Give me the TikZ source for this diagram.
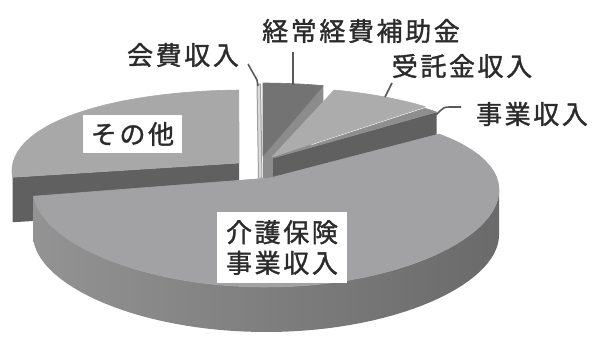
\documentclass[tikz,border=0pt]{standalone}
\usepackage{fontspec}
\newfontfamily\jpfont[LetterSpace=10, FakeBold=1.3]{Noto Sans CJK JP}
\usetikzlibrary{calc}
\definecolor{topmain}{HTML}{A2A2A5}
\definecolor{topother}{HTML}{A8A8A8}
\definecolor{topkeijo}{HTML}{737373}
\definecolor{topjutaku}{HTML}{ACACAC}
\definecolor{topjigyo}{HTML}{8E8E8E}
\definecolor{cutdark}{HTML}{606060}
\definecolor{cutkeijo}{HTML}{8C8C8C}
\definecolor{sideleft}{HTML}{939393}
\definecolor{sidemid}{HTML}{808080}
\definecolor{sideright}{HTML}{6A6A6A}
\definecolor{ink}{HTML}{2B2B2B}
\definecolor{leadgray}{HTML}{5A5A5A}
\tikzset{
  % rim of the pie top, x radius 233, y radius 81 behind / 97 in front
  rimto/.style args={#1/#2/#3/#4/#5}{insert path={-- plot[domain=#3:#4, samples=60, variable=\t]
      ({#1+233*cos(\t)},{#2+#5-(89-8*sin(\t))*sin(\t)})}},
  lbl/.style={font=\jpfont\fontsize{13pt}{15.3pt}\selectfont, text=ink, inner sep=0pt},
  lblbox/.style={lbl, fill=white, align=center},
  leader/.style={draw=leadgray, line width=0.8pt, line join=round},
  face/.style={line width=0.3pt, line join=round},
}
\begin{document}
\begin{tikzpicture}[x=0.5pt, y=-0.5pt]
  \useasboundingbox (0,0) rectangle (604,338);
  \fill[white] (0,0) rectangle (604,338);

  % slice centres (apex) and edge points
  \coordinate (apex1) at (239,163);  % sonota
  \coordinate (apex2) at (263,156);  % keijo
  \coordinate (apex3) at (272,157);  % jutaku
  \coordinate (apex4) at (273,158);  % jigyo
  \coordinate (apex5) at (270,178);  % kaigo
  \coordinate (edge1) at ({245+233*cos(184)},{171-(89-8*sin(184))*sin(184)});
  \coordinate (edge2) at ({261+233*cos(74.5)},{164-(89-8*sin(74.5))*sin(74.5)});
  \coordinate (edge4) at ({269+233*cos(44)},{170-(89-8*sin(44))*sin(44)});
  \coordinate (edge5) at ({266+233*cos(-176)},{190-(89-8*sin(-176))*sin(-176)});

  % sonota
  \fill[cutdark, face] (edge1) -- (apex1) -- ($(apex1)+(0,45)$) -- ($(edge1)+(0,45)$) -- cycle;
  \filldraw[topother, face] (apex1) [rimto=245/171/91.5/184/0] -- cycle;

  % kaihi
  \filldraw[fill=gray!30, draw=gray!75, line width=0.5pt] (257,84) -- (260.5,84) -- (262,178) -- (258.5,178) -- cycle;

  % keijo
  \fill[cutkeijo, face] (edge2) -- (apex2) -- ($(apex2)+(0,45)$) -- ($(edge2)+(0,45)$) -- cycle;
  \filldraw[topkeijo, face] (apex2) [rimto=261/164/74.5/89.5/0] -- cycle;

  % jigyo
  \fill[cutdark, face] (edge4) -- (apex4) -- ($(apex4)+(0,45)$) -- ($(edge4)+(0,45)$) -- cycle;
  \filldraw[topjigyo, face] (apex4) [rimto=269/170/44/48/0] -- cycle;

  % jutaku
  \filldraw[topjutaku, face] (apex3) [rimto=268/168/47.5/73.5/0] -- cycle;

  % kaigo hoken
  \shade[left color=sideleft, middle color=sidemid, right color=sideright]
    (edge5) [rimto=266/190/-176/0/0] [rimto=266/190/0/-176/45] -- cycle;
  \filldraw[topmain, face] (apex5) [rimto=266/190/-176/42/0] -- cycle;

  % labels
  \node[lbl] (label1) at (183,55) {会費収入};
  \node[lbl] (label2) at (361,31) {経常経費補助金};
  \node[lbl] (label3) at (462,66) {受託金収入};
  \node[lbl] (label4) at (532,114) {事業収入};
  \node[lblbox, minimum width=49.5pt, minimum height=19pt] (label5) at (132.5,134) {その他};
  \node[lblbox, minimum width=65pt, minimum height=35.5pt] (label6) at (282,247.5) {介護保険\\事業収入};

  % leaders
  \coordinate (tip1a) at (248,64);  \coordinate (tip1b) at (258,86);
  \coordinate (tip2a) at (293,52);  \coordinate (tip2b) at (293,85);
  \coordinate (tip3a) at (392,83);  \coordinate (tip3b) at (385,97);
  \coordinate (tip4a) at (461,107); \coordinate (tip4b) at (436,115);
  \draw[leader] (tip1a) -- (257,80) -- (tip1b);
  \draw[leader] (tip2a) -- (tip2b);
  \draw[leader] (tip3a) -- (tip3b);
  \draw[leader] (tip4a) -- (450,107) .. controls (444,107) .. (tip4b);
\end{tikzpicture}
\end{document}
